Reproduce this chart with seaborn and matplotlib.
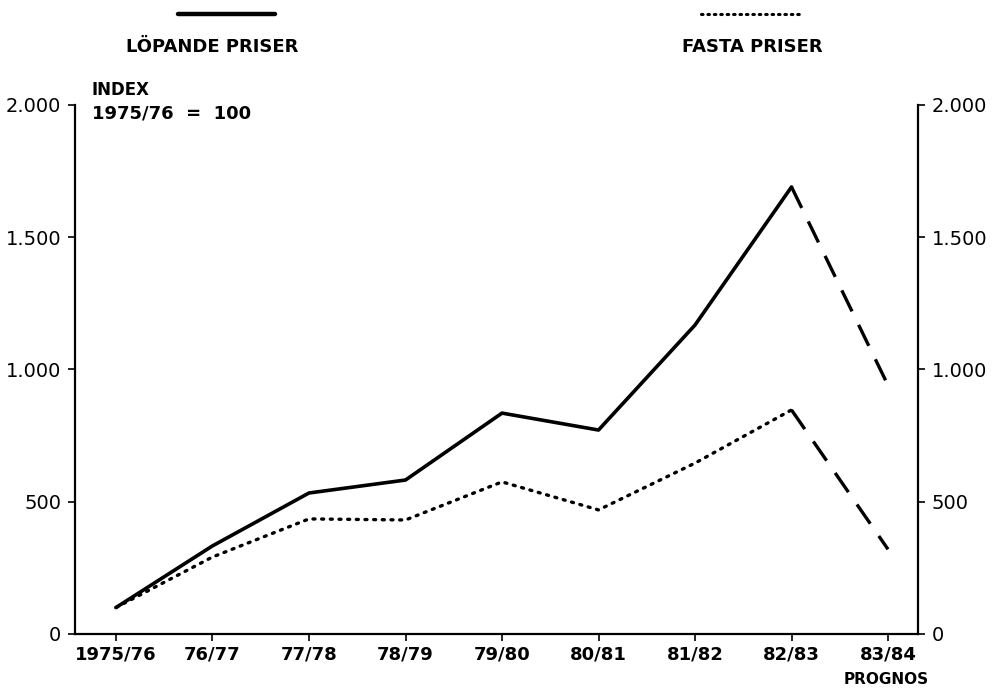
import numpy as np
import pandas as pd
import matplotlib
matplotlib.use("Agg")
import matplotlib.pyplot as plt
import seaborn as sns

# Data (index, 1975/76 = 100)
years = ['1975/76', '76/77', '77/78', '78/79', '79/80', '80/81', '81/82', '82/83', '83/84']
lopande = [100, 333, 533, 582, 835, 771, 1168, 1690]
fasta = [100, 291, 435, 431, 575, 469, 646, 847]
lopande_prognos = [1690, 940]
fasta_prognos = [847, 320]

y_ticks = [0, 500, 1000, 1500, 2000]
y_labels = ['0', '500', '1.000', '1.500', '2.000']

sns.set_style("ticks")
plt.rcParams['font.family'] = ['DejaVu Sans']
plt.rcParams['text.color'] = 'black'
plt.rcParams['axes.edgecolor'] = 'black'
plt.rcParams['xtick.color'] = 'black'
plt.rcParams['ytick.color'] = 'black'
plt.rcParams['axes.labelcolor'] = 'black'

pos = np.arange(len(years))
hist = pd.DataFrame({'pos': pos[:len(lopande)], 'lopande': lopande, 'fasta': fasta})
prog = pd.DataFrame({'pos': pos[-2:], 'lopande': lopande_prognos, 'fasta': fasta_prognos})

fig = plt.figure(figsize=(9.97, 6.9), dpi=100)
ax = fig.add_axes([0.0752, 0.0812, 0.8455, 0.7667])

sns.lineplot(data=hist, x='pos', y='lopande', ax=ax, color='black', linewidth=2.6)
sns.lineplot(data=hist, x='pos', y='fasta', ax=ax, color='black', linewidth=2.4,
             linestyle=(0, (0.6, 2.0)), dash_capstyle='round')
sns.lineplot(data=prog, x='pos', y='lopande', ax=ax, color='black', linewidth=2.4,
             linestyle=(0, (7, 4.5)))
sns.lineplot(data=prog, x='pos', y='fasta', ax=ax, color='black', linewidth=2.4,
             linestyle=(0, (7, 4.5)))

ax.set_xlim(-0.425, 8.31)
ax.set_ylim(0, 2000)
ax.set_xticks(pos)
ax.set_xticklabels(years, fontsize=13, fontweight='bold')
ax.set_yticks(y_ticks)
ax.set_yticklabels(y_labels, fontsize=14)
ax.set_xlabel('')
ax.set_ylabel('')
ax.tick_params(axis='y', left=True, right=True, labelleft=True, labelright=True,
               direction='out', length=5, width=1.2, pad=5)
ax.tick_params(axis='x', direction='out', length=5, width=1.2, pad=3)
ax.spines['top'].set_visible(False)
for s in ['left', 'right', 'bottom']:
    ax.spines[s].set_linewidth(1.6)
    ax.spines[s].set_visible(True)

# header / legend
fig.add_artist(plt.Line2D([0.179, 0.276], [0.979, 0.979], color='black', linewidth=3.2))
fig.add_artist(plt.Line2D([0.703, 0.802], [0.979, 0.979], color='black', linewidth=2.2,
                          linestyle=(0, (0.5, 1.6)), dash_capstyle='round'))
fig.text(0.213, 0.932, 'LÖPANDE PRISER', ha='center', va='center', fontsize=13, fontweight='bold')
fig.text(0.755, 0.932, 'FASTA PRISER', ha='center', va='center', fontsize=13, fontweight='bold')

fig.text(0.092, 0.869, 'INDEX', ha='left', va='center', fontsize=12, fontweight='bold')
fig.text(0.092, 0.836, '1975/76  =  100', ha='left', va='center', fontsize=13, fontweight='bold')
fig.text(0.889, 0.015, 'PROGNOS', ha='center', va='center', fontsize=11, fontweight='bold')

fig.savefig('out.png', dpi=100)
